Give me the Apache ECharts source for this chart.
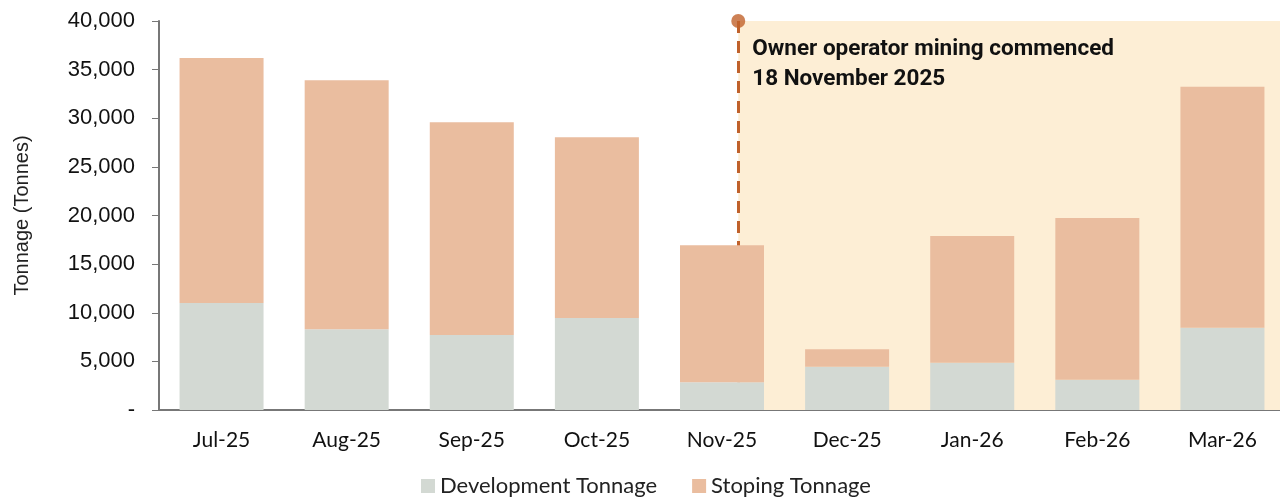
<!doctype html>
<html>
	<head>
		<meta charset="utf-8">
		<title>Tonnage</title>
		<script src="https://cdn.jsdelivr.net/npm/echarts@6/dist/echarts.min.js"></script>
		<style>
			html, body { margin: 0; padding: 0; background: #fff; overflow: hidden; }
			/* plot runs a few px past the right edge, like the source */
			#chart { width: 1290px; height: 497px; }
		</style>
	</head>
	<body>
		<div id="chart"></div>
	</body>
	<script>
		// monthly tonnage
		var months = ['Jul-25', 'Aug-25', 'Sep-25', 'Oct-25', 'Nov-25', 'Dec-25', 'Jan-26', 'Feb-26', 'Mar-26'];
		var development = [11000, 8300, 7700, 9450, 2850, 4450, 4850, 3100, 8450];
		var stoping = [25200, 25600, 21900, 18600, 14100, 1800, 13050, 16650, 24800];
		var seriesNames = ['Development Tonnage', 'Stoping Tonnage'];
		// owner operator start, in category units (Nov-25 spans 4..5)
		var eventPos = 4.63;
		var eventTop = 40000;
		var eventBottom = 2850;
		var eventText = ['Owner operator mining commenced', '18 November 2025'];

		var chart = echarts.init(document.getElementById('chart'));

		chart.setOption({
			animation: false,
			color: ['#d3d9d3', '#eabd9f'],
			grid: {
				left: 159,
				width: 1126,
				top: 21,
				bottom: 87
			},
			legend: {
				left: 416,
				bottom: -5,
				itemWidth: 14,
				itemHeight: 14,
				itemGap: 35,
				icon: 'rect',
				data: seriesNames,
				textStyle: {
					fontFamily: 'Lato',
					fontSize: 22,
					color: '#222'
				}
			},
			xAxis: [{
				type: 'category',
				data: months,
				axisTick: { show: false },
				axisLine: {
					lineStyle: { color: '#777', width: 2 }
				},
				axisLabel: {
					margin: 20,
					fontFamily: 'Lato',
					fontSize: 21,
					color: '#111'
				}
			}, {
				type: 'value',
				min: 0,
				max: 9,
				show: false
			}],
			yAxis: {
				type: 'value',
				min: 0,
				max: 40000,
				interval: 5000,
				name: 'Tonnage (Tonnes)',
				nameLocation: 'middle',
				nameGap: 127,
				nameTextStyle: {
					fontFamily: 'Liberation Sans',
					fontSize: 20,
					color: '#222'
				},
				axisLine: {
					show: true,
					lineStyle: { color: '#777', width: 2 }
				},
				axisTick: {
					show: true,
					length: 7,
					lineStyle: { color: '#777', width: 1 }
				},
				splitLine: { show: false },
				axisLabel: {
					margin: 24,
					fontFamily: 'Liberation Sans',
					fontSize: 22,
					color: '#111',
					formatter: function(v) {
						return v === 0 ? '-' : v.toLocaleString('en-US');
					}
				}
			},
			series: [{
				name: seriesNames[0],
				type: 'bar',
				stack: 'total',
				barWidth: 84,
				z: 3,
				data: development
			}, {
				name: seriesNames[1],
				type: 'bar',
				stack: 'total',
				barWidth: 84,
				z: 3,
				data: stoping
			}, {
				name: 'event',
				type: 'scatter',
				xAxisIndex: 1,
				z: 1,
				symbol: 'circle',
				symbolSize: 14,
				itemStyle: { color: '#c0612b' },
				data: [[eventPos, eventTop]],
				markArea: {
					silent: true,
					z: 1,
					itemStyle: { color: '#fdeed5' },
					label: {
						show: true,
						position: 'insideTopLeft',
						padding: [8, 0, 0, 9],
						fontFamily: 'Roboto',
						fontWeight: 'bold',
						fontSize: 22.5,
						lineHeight: 30,
						color: '#111',
						formatter: eventText.join('\n')
					},
					data: [[{ coord: [eventPos, eventTop] }, { coord: [9, 0] }]]
				},
				markLine: {
					silent: true,
					z: 1,
					symbol: 'none',
					lineStyle: {
						color: '#c0612b',
						width: 3,
						type: [12, 8]
					},
					label: { show: false },
					data: [[{ coord: [eventPos, eventTop] }, { coord: [eventPos, eventBottom] }]]
				}
			}]
		});
	</script>
</html>
